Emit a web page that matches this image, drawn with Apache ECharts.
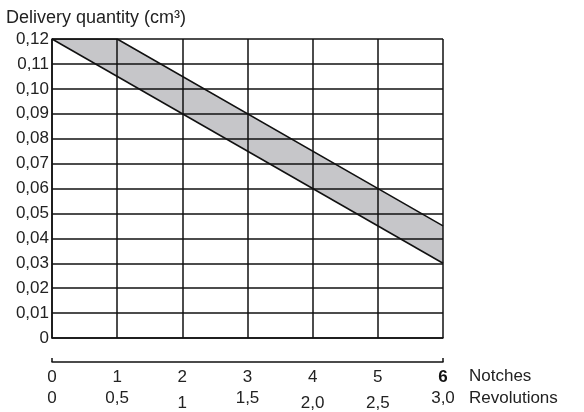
<!DOCTYPE html>
<html>
<head>
<meta charset="utf-8">
<script src="https://cdn.jsdelivr.net/npm/echarts@6/dist/echarts.min.js"></script>
<style>
  html, body { margin: 0; padding: 0; background: #fff; }
  #chart { width: 584px; height: 412px; }
</style>
</head>
<body>
<div id="chart"></div>
<script>
// y ticks and labels
var yTicks = [0, 0.01, 0.02, 0.03, 0.04, 0.05, 0.06, 0.07, 0.08, 0.09, 0.10, 0.11, 0.12];
var notchLabels = ['0', '1', '2', '3', '4', '5', '6'];
var revLabels = ['0', '0,5', '1', '1,5', '2,0', '2,5', '3,0'];
var revLow = [false, false, true, false, true, true, false];
// band edges (notch, cm3)
var upperEdge = [[0, 0.12], [1, 0.12], [6, 0.045]];
var lowerEdge = [[0, 0.12], [6, 0.03]];

var bandPoly = upperEdge.concat(lowerEdge.slice().reverse());

var font = 'Liberation Sans, Arial, sans-serif';
var fs = 17;
var chart = echarts.init(document.getElementById('chart'));

chart.setOption({
  animation: false,
  title: {
    text: 'Delivery quantity (cm³)',
    left: 1, top: 4,
    textStyle: { fontFamily: font, fontSize: 18, fontWeight: 'normal', color: '#222' }
  },
  grid: { left: 52, right: 141, top: 39, bottom: 74 },
  xAxis: [
    {
      type: 'value', min: 0, max: 6, interval: 1,
      axisLine: { show: true, lineStyle: { color: '#111', width: 1.5 } },
      axisTick: { show: false },
      axisLabel: { show: false },
      splitLine: { show: true, lineStyle: { color: '#111', width: 1.5 } }
    },
    {
      type: 'value', min: 0, max: 6, interval: 1, position: 'bottom', offset: 24,
      name: 'Notches', nameLocation: 'end', nameGap: 26,
      nameTextStyle: { fontFamily: font, fontSize: fs, color: '#222', verticalAlign: 'top', align: 'left', padding: [6, 0, 0, 0] },
      axisLine: { show: true, lineStyle: { color: '#111', width: 1.5 } },
      axisTick: { show: true, inside: true, length: 4, customValues: [0, 6], lineStyle: { color: '#111', width: 1.5 } },
      axisLabel: {
        margin: 7, fontFamily: font, fontSize: fs, color: '#222',
        formatter: function (v) {
          var i = Math.round(v);
          return i === 6 ? '{b|' + notchLabels[i] + '}' : notchLabels[i];
        },
        rich: { b: { fontFamily: font, fontSize: fs, fontWeight: 'bold', color: '#111' } }
      },
      splitLine: { show: false }
    },
    {
      type: 'value', min: 0, max: 6, interval: 1, position: 'bottom', offset: 46,
      name: 'Revolutions', nameLocation: 'end', nameGap: 26,
      nameTextStyle: { fontFamily: font, fontSize: fs, color: '#222', verticalAlign: 'top', align: 'left', padding: [6, 0, 0, 0] },
      axisLine: { show: false },
      axisTick: { show: false },
      axisLabel: {
        margin: 6, fontFamily: font, fontSize: fs, color: '#222',
        formatter: function (v) {
          var i = Math.round(v);
          return revLow[i] ? '{lo|' + revLabels[i] + '}' : revLabels[i];
        },
        rich: { lo: { fontFamily: font, fontSize: fs, color: '#222', padding: [5, 0, 0, 0] } }
      },
      splitLine: { show: false }
    }
  ],
  yAxis: {
    type: 'value', min: 0, max: 0.12, interval: 0.01,
    axisLine: { show: true, lineStyle: { color: '#111', width: 1.5 } },
    axisTick: { show: false },
    axisLabel: {
      margin: 3, fontFamily: font, fontSize: fs, color: '#222',
      formatter: function (v) {
        if (Math.abs(v) < 1e-9) return '0';
        return v.toFixed(2).replace('.', ',');
      }
    },
    splitLine: { show: true, lineStyle: { color: '#111', width: 1.5 } }
  },
  series: [
    {
      type: 'custom', xAxisIndex: 0, z: -1,
      data: bandPoly,
      renderItem: function (params, api) {
        if (params.dataIndex !== 0) return;
        var pts = bandPoly.map(function (p) { return api.coord(p); });
        return { type: 'polygon', shape: { points: pts }, style: { fill: '#c6c6c9' } };
      }
    },
    {
      type: 'line', xAxisIndex: 0, data: upperEdge, symbol: 'none',
      lineStyle: { color: '#111', width: 1.5 }, z: 5
    },
    {
      type: 'line', xAxisIndex: 0, data: lowerEdge, symbol: 'none',
      lineStyle: { color: '#111', width: 1.5 }, z: 5
    }
  ]
});
</script>
</body>
</html>
